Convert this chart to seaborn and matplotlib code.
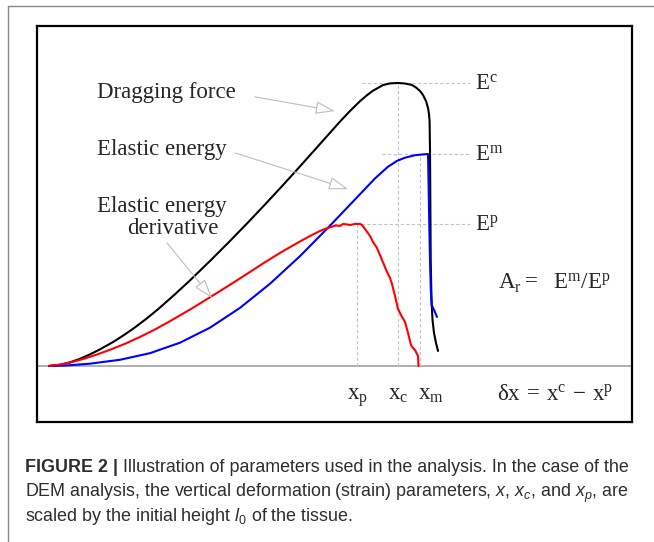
import matplotlib
matplotlib.use("Agg")
import matplotlib.pyplot as plt
from matplotlib.lines import Line2D
import pandas as pd
import seaborn as sns

# Strain is normalised by x_c, force / energy by the peak force E^c.
drag_x = [0.0000, 0.0315, 0.0602, 0.0888, 0.1175, 0.1461, 0.1834, 0.2178, 0.2464,
          0.2808, 0.3123, 0.3610, 0.4040, 0.4613, 0.5186, 0.5759, 0.6189, 0.6705,
          0.7192, 0.7765, 0.8338, 0.8625, 0.8911, 0.9112, 0.9284, 0.9570, 0.9771,
          1.0000, 1.0201, 1.0401, 1.0516, 1.0630, 1.0716, 1.0802, 1.0860, 1.0888,
          1.0905, 1.0917, 1.0926, 1.0937, 1.0960, 1.0989, 1.1032, 1.1089, 1.1146]
drag_y = [0.0000, 0.0039, 0.0127, 0.0254, 0.0410, 0.0587, 0.0845, 0.1117, 0.1364,
          0.1686, 0.2004, 0.2534, 0.3025, 0.3710, 0.4417, 0.5145, 0.5707, 0.6392,
          0.7053, 0.7845, 0.8636, 0.9011, 0.9357, 0.9569, 0.9728, 0.9926, 0.9986,
          1.0000, 0.9982, 0.9929, 0.9841, 0.9717, 0.9576, 0.9364, 0.9117, 0.8905,
          0.8657, 0.7633, 0.5866, 0.3746, 0.2332, 0.1625, 0.1166, 0.0813, 0.0530]

energy_x = [0.0000, 0.0458, 0.1175, 0.2034, 0.2894, 0.3754, 0.4613, 0.5473, 0.6332,
            0.7192, 0.8052, 0.8768, 0.9341, 0.9713, 0.9971, 1.0201, 1.0487, 1.0860,
            1.0874, 1.0894, 1.0917, 1.0940, 1.0966, 1.1046, 1.1117]
energy_y = [0.0000, 0.0014, 0.0081, 0.0219, 0.0452, 0.0823, 0.1353, 0.2053, 0.2906,
            0.3882, 0.4958, 0.5885, 0.6627, 0.7041, 0.7247, 0.7360, 0.7449, 0.7491,
            0.6572, 0.5159, 0.3746, 0.2686, 0.2155, 0.1943, 0.1731]

deriv_x = [0.0000, 0.0315, 0.0602, 0.1032, 0.1375, 0.1748, 0.2178, 0.2607, 0.3037,
           0.3467, 0.4126, 0.4613, 0.5186, 0.5759, 0.6132, 0.6476, 0.6762, 0.6991,
           0.7192, 0.7479, 0.7765, 0.7908, 0.8052, 0.8223, 0.8338, 0.8424, 0.8539,
           0.8625, 0.8768, 0.8911, 0.8968, 0.9054, 0.9198, 0.9284, 0.9398, 0.9542,
           0.9685, 0.9771, 0.9828, 0.9914, 1.0000, 1.0086, 1.0201, 1.0287, 1.0372,
           1.0430, 1.0487, 1.0573, 1.0587]
deriv_y = [0.0000, 0.0049, 0.0120, 0.0265, 0.0406, 0.0572, 0.0784, 0.1025, 0.1290,
           0.1583, 0.2057, 0.2428, 0.2869, 0.3322, 0.3622, 0.3887, 0.4099, 0.4258,
           0.4399, 0.4594, 0.4770, 0.4841, 0.4901, 0.4965, 0.4947, 0.5018, 0.5000,
           0.4982, 0.5018, 0.5018, 0.4982, 0.4841, 0.4594, 0.4382, 0.4170, 0.3746,
           0.3322, 0.3110, 0.2898, 0.2473, 0.2014, 0.1802, 0.1555, 0.1166, 0.0742,
           0.0636, 0.0565, 0.0353, 0.0000]

# characteristic levels and strains
level_names = ["c", "m", "p"]
level_vals = [1.000, 0.749, 0.502]
strain_names = ["p", "c", "m"]
strain_vals = [0.883, 1.000, 1.063]

curves = pd.concat([
    pd.DataFrame({"x": drag_x, "y": drag_y, "curve": "Dragging force"}),
    pd.DataFrame({"x": energy_x, "y": energy_y, "curve": "Elastic energy"}),
    pd.DataFrame({"x": deriv_x, "y": deriv_y, "curve": "Elastic energy derivative"}),
], ignore_index=True)
palette = {"Dragging force": "#000000", "Elastic energy": "#0000ff",
           "Elastic energy derivative": "#ff0000"}

sns.set_style("white")
plt.rcParams["font.family"] = ["Liberation Serif", "DejaVu Serif"]
plt.rcParams["mathtext.fontset"] = "custom"
plt.rcParams["mathtext.rm"] = "Liberation Serif"
plt.rcParams["mathtext.it"] = "Liberation Sans:italic"
plt.rcParams["mathtext.sf"] = "Liberation Sans"

W, H = 654, 542
fig = plt.figure(figsize=(W / 100, H / 100), dpi=100)
ax = fig.add_axes([37 / W, 1 - 422 / H, 595 / W, 396 / H])

# zero line
ax.axhline(0, color="#9a9a9a", lw=1.1, zorder=1)

# guide lines to the characteristic points
dash_color = "#c4c4c4"
dash = (0, (3, 2))
for name, val, x0 in zip(level_names, level_vals, [0.897, 0.954, 0.80]):
    ax.plot([x0, 1.206], [val, val], color=dash_color, lw=0.8, ls=dash, zorder=1)
    ax.text(1.221, val - 0.025, r"$\mathrm{E^{%s}}$" % name, fontsize=16.5,
            ha="left", va="baseline")
for xv, top in zip(strain_vals, [level_vals[2], level_vals[0], level_vals[1]]):
    ax.plot([xv, xv], [0, top], color=dash_color, lw=0.8, ls=dash, zorder=1)

for name, xv in zip(strain_names, [0.883, 1.000, 1.095]):
    ax.text(xv, -0.12, r"$\mathrm{x_{%s}}$" % name, fontsize=16.5,
            ha="center", va="baseline")

sns.lineplot(data=curves, x="x", y="y", hue="curve", palette=palette,
             sort=False, estimator=None, lw=1.5, legend=False, ax=ax, zorder=3)

# curve labels with pointer arrows
ax.text(0.138, 0.947, "Dragging force", fontsize=16.5, ha="left", va="baseline")
ax.text(0.138, 0.746, "Elastic energy", fontsize=16.5, ha="left", va="baseline")
ax.text(0.138, 0.544, "Elastic energy", fontsize=16.5, ha="left", va="baseline")
ax.text(0.223, 0.466, "derivative", fontsize=16.5, ha="left", va="baseline")
arrow = dict(arrowstyle="-|>,head_length=1.2,head_width=0.4", fc="white",
             ec="#bdbdbd", lw=0.8, shrinkA=0, shrinkB=0)
ax.annotate("", xy=(0.819, 0.901), xytext=(0.590, 0.951), arrowprops=arrow)
ax.annotate("", xy=(0.857, 0.625), xytext=(0.533, 0.753), arrowprops=arrow)
ax.annotate("", xy=(0.467, 0.240), xytext=(0.338, 0.435), arrowprops=arrow)

ax.text(1.287, 0.272, r"$\mathrm{A_r =\ \ E^m/E^p}$", fontsize=16.5,
        ha="left", va="baseline")
ax.text(1.284, -0.12, r"$\mathrm{δx\,=\,x^c\,-\,x^p}$", fontsize=16.5,
        ha="left", va="baseline")

ax.set_xlim(-0.0344, 1.6705)
ax.set_ylim(-0.198, 1.2014)
ax.set_xticks([])
ax.set_yticks([])
ax.set_xlabel("")
ax.set_ylabel("")
for sp in ax.spines.values():
    sp.set_visible(True)
    sp.set_color("black")
    sp.set_linewidth(1.6)

# page rules
fig.add_artist(Line2D([7.5 / W, 7.5 / W], [0, 1 - 6 / H], color="#8a8a8a", lw=1.0))
fig.add_artist(Line2D([7.5 / W, 1], [1 - 6 / H, 1 - 6 / H], color="#8a8a8a", lw=1.0))

# caption: first line is fitted to the text width
cap_family = ["Liberation Sans", "DejaVu Sans"]
x0 = 25 / W
lines_y = [1 - 472 / H, 1 - 497 / H, 1 - 521 / H]
renderer = fig.canvas.get_renderer()
probe_b = fig.text(0, 0, "FIGURE 2 | ", fontsize=12, fontweight="bold", family=cap_family)
probe_r = fig.text(0, 0, "Illustration of parameters used in the analysis. In the case of the",
                   fontsize=12, family=cap_family)
wsum = probe_b.get_window_extent(renderer).width + probe_r.get_window_extent(renderer).width
probe_b.remove()
probe_r.remove()
cap_size = 12 * 603 / wsum

cap_kw = dict(fontsize=cap_size, color="#2e2e2e", family=cap_family,
              va="baseline", ha="left")
bold = fig.text(x0, lines_y[0], "FIGURE 2 | ", fontweight="bold", **cap_kw)
bb = bold.get_window_extent(renderer)
fig.text(bb.x1 / W, lines_y[0],
         "Illustration of parameters used in the analysis. In the case of the", **cap_kw)
fig.text(x0, lines_y[1],
         r"DEM analysis, the vertical deformation (strain) parameters, $x$, $x_c$, and $x_p$, are",
         **cap_kw)
fig.text(x0, lines_y[2], r"scaled by the initial height $l_\mathsf{0}$ of the tissue.", **cap_kw)

fig.savefig("out.png", dpi=100)
